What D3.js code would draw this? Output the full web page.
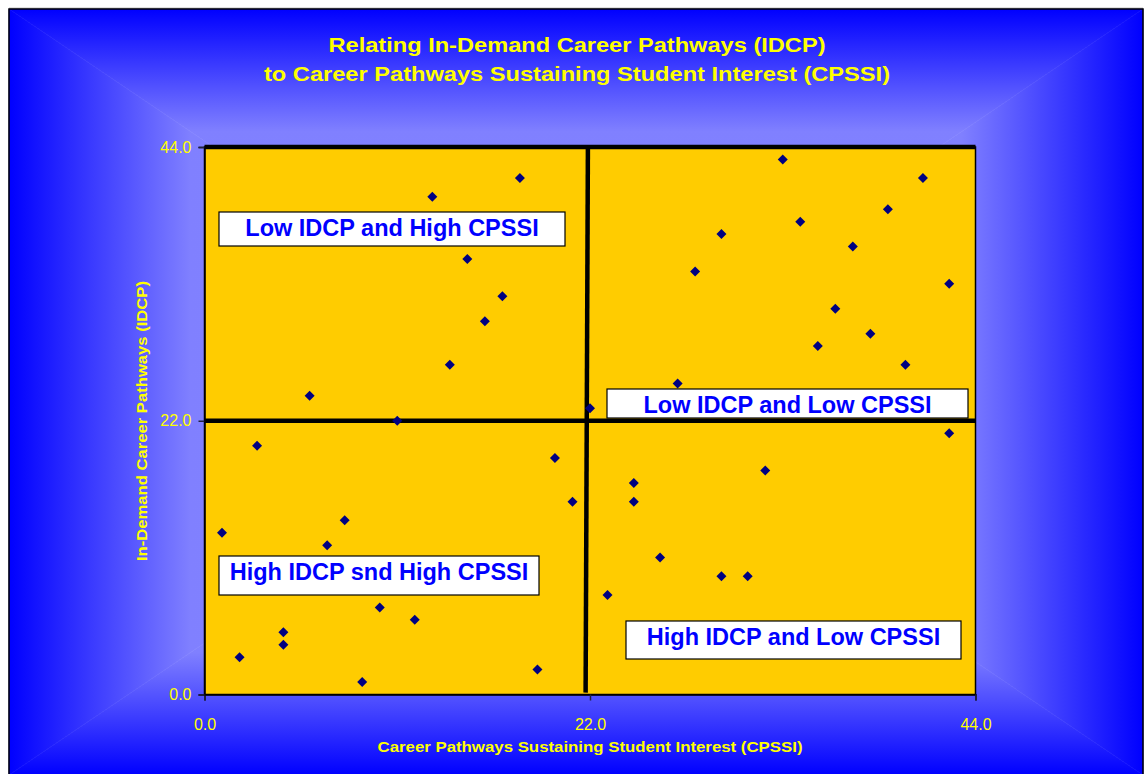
<!DOCTYPE html>
<html lang="en">
    <head>
        <meta charset="UTF-8" />
        <title>IDCP vs CPSSI</title>
        <style>
            body { margin: 0; background: #ffffff; }
            text { font-family: "Liberation Sans", Arial, sans-serif; }
        </style>
    </head>
    <body>
        <div id="chart"></div>

        <script src="https://d3js.org/d3.v7.min.js"></script>
        <script>

            // data
            var cpssi = [18.0, 13.0, 15.0, 17.0, 16.0, 14.0, 6.0, 11.0, 22.0,
                         33.0, 41.0, 39.0, 34.0, 29.5, 37.0, 28.0, 42.5, 36.0, 38.0, 35.0, 40.0, 27.0,
                         3.0, 20.0, 21.0, 1.0, 8.0, 7.0, 10.0, 12.0, 4.5, 4.5, 2.0, 9.0, 19.0,
                         42.5, 32.0, 24.5, 24.5, 26.0, 29.5, 31.0, 23.0];
            var idcp  = [41.5, 40.0, 35.0, 32.0, 30.0, 26.5, 24.0, 22.0, 23.0,
                         43.0, 41.5, 39.0, 38.0, 37.0, 36.0, 34.0, 33.0, 31.0, 29.0, 28.0, 26.5, 25.0,
                         20.0, 19.0, 15.5, 13.0, 14.0, 12.0, 7.0, 6.0, 5.0, 4.0, 3.0, 1.0, 2.0,
                         21.0, 18.0, 17.0, 15.5, 11.0, 9.5, 9.5, 8.0];
            var xTicks = [0, 22, 44];
            var yTicks = [0, 22, 44];
            var hDividers = [22, 44];
            var vDivider = [[21.88, 44], [21.75, 0.15]];
            var quadrantLabels = ["Low IDCP and High CPSSI", "Low IDCP and Low CPSSI",
                                  "High IDCP snd High CPSSI", "High IDCP and Low CPSSI"];
            var titleLines = ["Relating In-Demand Career Pathways (IDCP)",
                              "to Career Pathways Sustaining Student Interest (CPSSI)"];

            // label boxes (pixels), same order as quadrantLabels
            var boxes = [
                {x: 219, y: 212, w: 346, h: 34, base: 236},
                {x: 607, y: 389, w: 361, h: 29, base: 413},
                {x: 219, y: 556, w: 320, h: 39, base: 580},
                {x: 626, y: 621, w: 335, h: 38, base: 645}
            ];

            var W = 1146, H = 774;
            var area = {x0: 9, y0: 9, x1: 1143, y1: 775};
            var cx = (area.x0 + area.x1) / 2, cy = (area.y0 + area.y1) / 2;

            var svg = d3.select("#chart").append("svg")
                .attr("width", W).attr("height", H);

            // rectangular "from center" gradient made of four triangles
            var defs = svg.append("defs");
            var sides = [
                {id: "gT", x1: cx, y1: area.y0, x2: cx, y2: cy, pts: [[area.x0, area.y0], [area.x1, area.y0], [cx, cy]]},
                {id: "gB", x1: cx, y1: area.y1, x2: cx, y2: cy, pts: [[area.x0, area.y1], [area.x1, area.y1], [cx, cy]]},
                {id: "gL", x1: area.x0, y1: cy, x2: cx, y2: cy, pts: [[area.x0, area.y0], [area.x0, area.y1], [cx, cy]]},
                {id: "gR", x1: area.x1, y1: cy, x2: cx, y2: cy, pts: [[area.x1, area.y0], [area.x1, area.y1], [cx, cy]]}
            ];
            sides.forEach(function(s) {
                var g = defs.append("linearGradient").attr("id", s.id)
                    .attr("gradientUnits", "userSpaceOnUse")
                    .attr("x1", s.x1).attr("y1", s.y1).attr("x2", s.x2).attr("y2", s.y2);
                g.append("stop").attr("offset", 0).attr("stop-color", "#0000ff");
                g.append("stop").attr("offset", 0.32).attr("stop-color", "#8080ff");
                g.append("stop").attr("offset", 1).attr("stop-color", "#8c8cff");
                svg.append("polygon")
                    .attr("points", s.pts.map(function(p) { return p.join(","); }).join(" "))
                    .attr("fill", "url(#" + s.id + ")")
                    .attr("stroke", "url(#" + s.id + ")")
                    .attr("stroke-width", 0.6);
            });

            // chart area frame
            svg.append("line")
                .attr("x1", area.x0).attr("x2", area.x1).attr("y1", 8).attr("y2", 8)
                .attr("stroke", "#c0c0c0").attr("stroke-width", 1);
            svg.append("rect")
                .attr("x", area.x0).attr("y", area.y0)
                .attr("width", area.x1 - area.x0).attr("height", area.y1 - area.y0)
                .attr("fill", "none").attr("stroke", "#000").attr("stroke-width", 1.5);

            // title
            var titleLen = [497, 626];
            svg.selectAll(".title").data(titleLines).enter().append("text")
                .attr("class", "title")
                .attr("x", 577).attr("y", function(d, i) { return 52 + i * 29; })
                .attr("text-anchor", "middle")
                .attr("textLength", function(d, i) { return titleLen[i]; })
                .attr("lengthAdjust", "spacingAndGlyphs")
                .style("font-size", "20px").style("font-weight", "bold")
                .attr("fill", "#ffff00")
                .text(function(d) { return d; });

            // scales
            var x = d3.scaleLinear().domain([0, 44]).range([204.5, 975.5]);
            var y = d3.scaleLinear().domain([0, 44]).range([694.5, 147]);

            // plot area
            svg.append("rect")
                .attr("x", x(0)).attr("y", y(44))
                .attr("width", x(44) - x(0)).attr("height", y(0) - y(44))
                .attr("fill", "#ffcc00").attr("stroke", "#000").attr("stroke-width", 1.5);

            // axes
            var xAxis = svg.append("g")
                .attr("transform", "translate(0," + y(0) + ")")
                .call(d3.axisBottom(x).tickValues(xTicks).tickSize(6).tickPadding(18)
                    .tickFormat(d3.format(".1f")));
            var yAxis = svg.append("g")
                .attr("transform", "translate(" + x(0) + ",0)")
                .call(d3.axisLeft(y).tickValues(yTicks).tickSize(6).tickPadding(7)
                    .tickFormat(d3.format(".1f")));
            [xAxis, yAxis].forEach(function(a) {
                a.select(".domain").attr("stroke", "#000").attr("stroke-width", 1.5);
                a.selectAll(".tick line").attr("stroke", "#202040").attr("stroke-width", 1.5);
                a.selectAll(".tick text").attr("fill", "#ffff00")
                    .style("font-size", "16px")
                    .style("font-family", "'Liberation Sans', Arial, sans-serif");
            });

            // quadrant dividers
            svg.selectAll(".hdiv").data(hDividers).enter().append("line")
                .attr("x1", x(0)).attr("x2", x(44))
                .attr("y1", function(d) { return y(d); }).attr("y2", function(d) { return y(d); })
                .attr("stroke", "#000").attr("stroke-width", 4.5);
            svg.append("line")
                .attr("x1", x(vDivider[0][0])).attr("y1", y(vDivider[0][1]))
                .attr("x2", x(vDivider[1][0])).attr("y2", y(vDivider[1][1]))
                .attr("stroke", "#000").attr("stroke-width", 4.5);

            // points
            var pts = cpssi.map(function(v, i) { return {x: v, y: idcp[i]}; });
            svg.append("g").selectAll("path").data(pts).enter().append("path")
                .attr("d", d3.symbol().type(d3.symbolSquare).size(50))
                .attr("transform", function(d) {
                    return "translate(" + x(d.x) + "," + y(d.y) + ") rotate(45)";
                })
                .attr("fill", "#000080");

            // quadrant label boxes
            var lab = svg.append("g").selectAll("g").data(quadrantLabels).enter().append("g");
            lab.append("rect")
                .attr("x", function(d, i) { return boxes[i].x; })
                .attr("y", function(d, i) { return boxes[i].y; })
                .attr("width", function(d, i) { return boxes[i].w; })
                .attr("height", function(d, i) { return boxes[i].h; })
                .attr("fill", "#ffffff").attr("stroke", "#000").attr("stroke-width", 1.2);
            lab.append("text")
                .attr("x", function(d, i) { return boxes[i].x + boxes[i].w / 2; })
                .attr("y", function(d, i) { return boxes[i].base; })
                .attr("text-anchor", "middle")
                .style("font-size", "23.5px").style("font-weight", "bold")
                .attr("fill", "#0000ff")
                .text(function(d) { return d; });

            // axis titles
            svg.append("text")
                .attr("x", 590).attr("y", 752)
                .attr("text-anchor", "middle")
                .attr("textLength", 425).attr("lengthAdjust", "spacingAndGlyphs")
                .style("font-size", "15px").style("font-weight", "bold")
                .attr("fill", "#ffff00")
                .text("Career Pathways Sustaining Student Interest (CPSSI)");
            svg.append("text")
                .attr("transform", "translate(147,421) rotate(-90)")
                .attr("text-anchor", "middle")
                .attr("textLength", 280).attr("lengthAdjust", "spacingAndGlyphs")
                .style("font-size", "15px").style("font-weight", "bold")
                .attr("fill", "#ffff00")
                .text("In-Demand Career Pathways (IDCP)");

        </script>
    </body>
</html>
